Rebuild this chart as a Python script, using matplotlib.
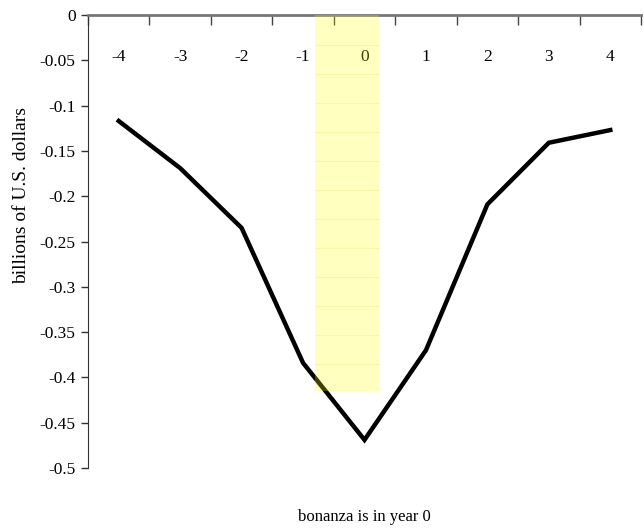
import matplotlib
matplotlib.use("Agg")
import matplotlib.pyplot as plt
import matplotlib.transforms as mtransforms
import numpy as np

years = ["-4", "-3", "-2", "-1", "0", "1", "2", "3", "4"]
values = [-0.117, -0.169, -0.235, -0.384, -0.469, -0.370, -0.209, -0.141, -0.127]
band_left, band_right = 3.2, 4.23
band_bottom = -0.415

plt.rcParams["font.family"] = ["Liberation Serif", "DejaVu Serif"]

fig = plt.figure(figsize=(6.44, 5.32), dpi=100)
ax = fig.add_axes([88 / 644, 1 - 468 / 532, 553 / 644, 453 / 532])

x = np.arange(len(years))

ax.plot(x, values, color="black", lw=3.2, zorder=2, solid_joinstyle="miter")

# highlighted band around the bonanza year, drawn translucent over the line
ax.add_patch(plt.Rectangle((band_left, band_bottom), band_right - band_left, -band_bottom,
                           facecolor="yellow", alpha=0.25, edgecolor="none", zorder=4))
for yy in np.arange(-0.033, band_bottom, -0.032):
    ax.plot([band_left, band_right], [yy, yy], color="#e8e060", alpha=0.25, lw=0.8, zorder=4)

ax.set_xlim(-0.5, len(years) - 0.5)
ax.set_ylim(-0.5, 0)

# y axis
ax.set_yticks(np.arange(0, -0.501, -0.05))
ax.set_yticklabels(["0", "-0.05", "-0.1", "-0.15", "-0.2", "-0.25", "-0.3",
                    "-0.35", "-0.4", "-0.45", "-0.5"])
ax.tick_params(axis="y", direction="out", length=5, width=1, colors="#333333",
               labelcolor="black", labelsize=12.5, pad=4)

# category x axis sits at y = 0 (top), ticks between categories pointing down
ax.xaxis.tick_top()
ax.set_xticks(np.arange(-0.5, len(years) + 0.5, 1.0))
ax.set_xticklabels([])
ax.tick_params(axis="x", direction="in", length=7, width=1, colors="#444444")
trans = mtransforms.blended_transform_factory(ax.transData, ax.transAxes)
for xi, lab in zip(x, years):
    ax.text(xi, 1 - 42 / 453, lab, transform=trans, ha="center", va="center",
            fontsize=12.5, zorder=3)

for side in ["right", "bottom"]:
    ax.spines[side].set_visible(False)
ax.spines["top"].set_color("#777777")
ax.spines["top"].set_linewidth(2)
ax.spines["left"].set_color("#333333")

fig.text(22 / 644, 1 - 195 / 532, "billions of U.S. dollars", rotation=90,
         ha="center", va="center", fontsize=14)
fig.text(364 / 644, 1 - 517 / 532, "bonanza is in year 0", ha="center", va="center", fontsize=12)

fig.savefig("out.png", dpi=100)
